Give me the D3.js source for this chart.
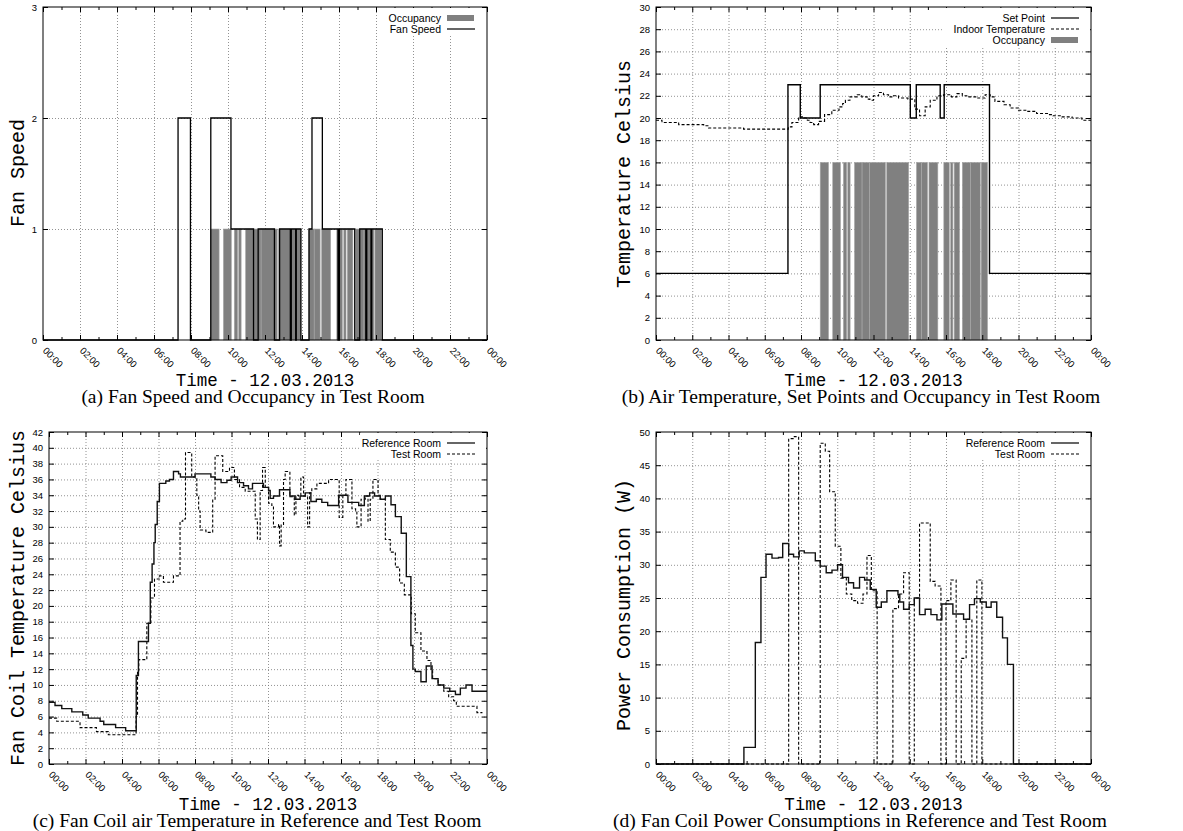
<!DOCTYPE html>
<html><head><meta charset="utf-8">
<script src="https://cdn.jsdelivr.net/npm/d3@7/dist/d3.min.js"></script>
<style>body{margin:0;background:#fff}svg{display:block}</style>
</head><body>
<svg id="chart" width="1183" height="831"></svg>
<script>
// ---------------- DATA ----------------
const timeTicks = [0,2,4,6,8,10,12,14,16,18,20,22,24];
const timeTickLabels = ["00:00","02:00","04:00","06:00","08:00","10:00","12:00","14:00","16:00","18:00","20:00","22:00","00:00"];
const minorTimeTicks = [1,3,5,7,9,11,13,15,17,19,21,23];
const xTitle = "Time - 12.03.2013";

// occupancy intervals [start hour, end hour]
const occupancyIntervals = [
  [9.06,9.52],[9.75,10.18],[10.34,10.52],[10.58,10.71],[10.95,11.37],[11.37,11.79],[11.79,12.66],
  [12.73,13.94],[14.37,14.66],[14.66,14.98],[15.06,15.55],[15.88,16.18],[16.26,16.38],[16.45,16.75],
  [16.9,17.35],[17.35,17.89],[17.94,18.29]
];

// (a) fan speed steps [hour, value]
const fanSpeedTicks = [0,1,2,3];
const fanSpeed = [
  [0,0],[7.3,2],[7.97,0],[9.07,2],[10.16,1],[11.38,0],[11.63,1],[12.51,0],[12.79,1],[13.37,0],
  [13.42,1],[13.66,0],[13.69,1],[13.94,0],[14.38,1],[14.54,2],[15.1,1],[15.95,0],[16.02,1],[16.85,0],
  [17.12,1],[17.45,0],[17.5,1],[17.73,0],[17.77,1],[18.34,0],[24,0]
];

// (b) set point and indoor temperature
const tempTicksB = [0,2,4,6,8,10,12,14,16,18,20,22,24,26,28,30];
const setPoint = [[0,6],[7.28,23],[7.96,20],[9.06,23],[14.03,20],[14.36,23],[15.68,20],[15.9,23],[18.4,6],[24,6]];
const indoorTemp = [
  [0,19.8],[0.33,19.6],[1.25,19.4],[2.63,19.3],[2.9,19.1],[4.83,19.0],[7.3,19.2],[7.5,19.6],[7.87,20.1],
  [8.15,20.0],[8.35,19.8],[8.5,19.6],[8.7,19.4],[8.97,19.7],[9.3,20.3],[9.7,20.7],[10.1,21.0],[10.3,21.3],
  [10.45,21.6],[10.7,21.9],[11.1,22.1],[11.35,21.9],[11.65,21.7],[11.8,21.6],[12.0,22.0],[12.28,22.3],
  [12.55,22.1],[12.83,21.9],[13.1,22.0],[13.38,21.8],[13.9,21.7],[14.28,20.8],[14.54,20.2],[14.85,21.0],
  [15.13,21.6],[15.5,22.0],[15.86,22.1],[16.3,21.9],[16.6,22.2],[16.9,22.0],[17.15,21.9],[17.7,21.8],
  [18.16,22.1],[18.44,21.9],[18.7,21.5],[19.2,21.2],[19.54,20.9],[20.0,20.7],[20.46,20.6],[21.0,20.4],
  [21.6,20.3],[21.9,20.2],[22.4,20.1],[22.95,20.0],[23.5,19.8],[24,19.8]
];

// (c) fan coil air temperature
const tempTicksC = [0,2,4,6,8,10,12,14,16,18,20,22,24,26,28,30,32,34,36,38,40,42];
const refRoomTemp = [
  [0,7.8],[0.33,7.4],[0.7,7.0],[1.25,6.6],[1.85,6.2],[2.15,5.8],[2.8,5.4],[3.0,5.0],[3.65,4.6],[4.2,4.2],
  [4.78,11.2],[4.9,15.5],[5.45,17.8],[5.55,23],[5.65,25.3],[5.75,28],[5.82,30.3],[5.93,33.2],[6.05,35.5],
  [6.4,35.8],[6.6,36],[6.82,37],[7.1,36.7],[7.2,36.3],[8.0,36.7],[8.87,36.3],[9.1,36],[9.43,35.6],[9.75,35.9],
  [9.98,36.3],[10.33,35.6],[10.66,35.2],[10.93,34.8],[11.15,35.5],[11.75,35],[12.03,34.6],[12.12,33.6],
  [12.3,33.9],[12.63,34.7],[13.2,33.9],[13.48,33.5],[13.76,33.9],[14.04,34.3],[14.35,33.2],[14.65,33.5],
  [14.95,33.1],[15.27,32.7],[15.87,34],[16.38,33.1],[16.97,32.7],[17.28,33.9],[17.57,34.3],[17.84,33.9],
  [18.15,33.5],[18.43,33.9],[18.74,32.8],[18.98,31.3],[19.3,29.2],[19.58,23.7],[19.83,15],[19.94,12],
  [20.07,11.7],[20.38,10.4],[20.67,12.4],[20.99,10.8],[21.32,10],[21.63,9.6],[21.96,9.2],[22.27,8.8],
  [22.54,9.6],[22.85,10],[23.18,9.2],[24,9.2]
];
const testRoomTemp = [
  [0,5.8],[0.42,5.4],[1.7,4.6],[2.6,4.1],[3.25,3.7],[4.77,6],[4.85,11.8],[4.92,13.2],[5.36,17.8],[5.58,21],
  [5.78,23.4],[6.05,23.8],[6.27,23],[6.82,23.8],[7.18,30.7],[7.33,31],[7.48,39.4],[7.82,36.3],[8.1,34],
  [8.2,32],[8.28,29.6],[8.6,29.3],[8.97,33.5],[9.1,39],[9.52,37],[9.89,37.5],[10.16,36],[10.44,35],
  [10.75,34.5],[11.3,31],[11.42,28.4],[11.57,34.6],[11.7,37.5],[11.85,35],[12.03,33],[12.21,32.7],[12.3,30],
  [12.58,30.3],[12.63,27.6],[12.72,30.3],[12.85,36],[12.94,37],[13.2,33.8],[13.44,31.5],[13.53,34],
  [13.67,33.9],[13.8,36.3],[13.95,33.9],[14.17,30],[14.28,34.3],[14.4,34.8],[14.68,35.5],[15.32,36],
  [15.9,31.2],[16.1,34],[16.27,36],[16.6,32.3],[16.8,32],[16.87,30],[17.1,33.5],[17.33,33.9],[17.48,30.7],
  [17.6,33.5],[17.75,36],[18.03,34],[18.15,33.5],[18.43,28.4],[18.7,26.8],[18.98,24.9],[19.21,22.9],
  [19.47,21.4],[19.85,19],[20.07,16.6],[20.38,14.3],[20.71,13.1],[20.93,12],[21.02,10.8],[21.32,10],
  [21.63,9.2],[21.9,8.5],[22.17,8],[22.32,7.3],[23.0,7.3],[23.45,6.5],[23.75,6.5]
];

// (d) power consumption
const powerTicks = [0,5,10,15,20,25,30,35,40,45,50];
const refRoomPower = [
  [0,0],[4.85,2.5],[5.48,18.3],[5.79,28.1],[6.07,31.6],[6.4,31.0],[6.76,31.1],[6.99,33.2],[7.32,31.6],
  [7.59,31.2],[7.9,32.1],[8.18,31.8],[8.79,30.6],[9.06,29.8],[9.39,28.8],[9.71,29.2],[10.02,30],[10.29,28.1],
  [10.62,27.3],[10.9,26.5],[11.23,28.1],[11.51,27.7],[11.82,26.3],[12.15,23.6],[12.43,24.4],[12.74,26.1],
  [13.35,25.5],[13.45,24.4],[13.66,23.3],[13.97,24],[14.25,25],[14.54,22.5],[14.85,23.3],[15.17,22.5],
  [15.5,21.7],[15.77,24.1],[16.38,22.6],[16.97,21.8],[17.3,24.0],[17.57,24.9],[17.89,24.4],[18.22,23.6],
  [18.49,24.4],[18.8,22.1],[19.12,19],[19.39,15],[19.72,0],[24,0]
];
const testRoomPower = [
  [0,0],[7.32,49],[7.63,49.3],[7.87,0],[9.06,48.3],[9.34,47.1],[9.58,41],[9.89,32.8],[10.2,28],[10.5,25.6],
  [10.8,24.6],[11.12,24.2],[11.42,25.6],[11.64,31.4],[11.88,26.1],[12.2,0],[13.07,23.4],[13.38,25.6],
  [13.66,28.8],[13.97,0],[14.25,25],[14.54,36.3],[15.13,27.5],[15.4,26.8],[15.72,0],[16.0,24.6],[16.27,27.7],
  [16.56,0],[16.84,15.9],[17.11,21.8],[17.43,0],[17.7,27.7],[17.98,0],[24,0]
];

// ---------------- DRAW ----------------
const svg = d3.select('#chart');
const SANS = "'Liberation Sans', Arial, Helvetica, sans-serif";
const MONO = "'Liberation Mono', 'Courier New', monospace";
const SERIF = "'Liberation Serif', 'Times New Roman', serif";

function panel(o){
  const g = svg.append('g');
  const x = d3.scaleLinear().domain([0,24]).range([o.x0,o.x1]);
  const y = d3.scaleLinear().domain([0,o.ymax]).range([o.y1,o.y0]);
  const W = o.x1-o.x0, H = o.y1-o.y0;

  // grid
  const gx = g.append('g').attr('transform',`translate(0,${o.y1})`)
    .call(d3.axisBottom(x).tickValues(timeTicks.slice(1,-1)).tickSize(-H).tickFormat(''));
  const gy = g.append('g').attr('transform',`translate(${o.x0},0)`)
    .call(d3.axisLeft(y).tickValues(o.yticks.slice(1,-1)).tickSize(-W).tickFormat(''));
  [gx,gy].forEach(a=>{a.select('.domain').remove();
    a.selectAll('line').attr('stroke','#777').attr('stroke-width',0.8).attr('stroke-dasharray','1,2');});

  // occupancy
  if(o.occ){
    g.append('g').selectAll('rect').data(occupancyIntervals).join('rect')
      .attr('x',d=>x(d[0])).attr('width',d=>x(d[1])-x(d[0]))
      .attr('y',y(o.occ)).attr('height',y(0)-y(o.occ))
      .attr('fill','#808080').attr('stroke','#a8a8a8').attr('stroke-width',0.6);
  }

  // lines
  const line = d3.line().x(d=>x(d[0])).y(d=>y(d[1])).curve(d3.curveStepAfter);
  o.series.forEach(s=>{
    g.append('path').datum(s.data).attr('d',line).attr('fill','none')
      .attr('stroke',s.color||'#000').attr('stroke-width',s.width||1.2)
      .attr('stroke-dasharray',s.dash||null);
  });

  // border
  g.append('rect').attr('x',o.x0).attr('y',o.y0).attr('width',W).attr('height',H)
    .attr('fill','none').attr('stroke','#000').attr('stroke-width',1);

  // axes ticks
  const bottom = g.append('g').attr('transform',`translate(0,${o.y1})`)
    .call(d3.axisBottom(x).tickValues(timeTicks).tickSize(-5).tickFormat((d,i)=>timeTickLabels[i]));
  bottom.selectAll('text').attr('x',0).attr('y',0).attr('dy','0.35em')
    .attr('transform','translate(1,9) rotate(45)').style('text-anchor','start');
  const bottomMinor = g.append('g').attr('transform',`translate(0,${o.y1})`)
    .call(d3.axisBottom(x).tickValues(minorTimeTicks).tickSize(-3).tickFormat(''));
  const top = g.append('g').attr('transform',`translate(0,${o.y0})`)
    .call(d3.axisTop(x).tickValues(timeTicks).tickSize(-5).tickFormat(''));
  const topMinor = g.append('g').attr('transform',`translate(0,${o.y0})`)
    .call(d3.axisTop(x).tickValues(minorTimeTicks).tickSize(-3).tickFormat(''));
  const left = g.append('g').attr('transform',`translate(${o.x0},0)`)
    .call(d3.axisLeft(y).tickValues(o.yticks).tickSize(-5).tickPadding(6).tickFormat(d3.format('d')));
  const right = g.append('g').attr('transform',`translate(${o.x1},0)`)
    .call(d3.axisRight(y).tickValues(o.yticks).tickSize(-5).tickFormat(''));
  [bottom,bottomMinor,top,topMinor,left,right].forEach(a=>{
    a.select('.domain').remove();
    a.selectAll('line').attr('stroke','#000').attr('stroke-width',1);
    a.selectAll('text').attr('font-family',SANS).attr('font-size',9.5).attr('fill','#000');
  });

  // legend (opaque)
  const lg = g.append('g');
  lg.append('rect').attr('x',o.legX).attr('y',o.y0+1).attr('width',o.x1-o.legX-1)
    .attr('height',o.legend.length*11+5).attr('fill','#fff');
  o.legend.forEach((L,i)=>{
    const ly = o.y0+11+i*11;
    lg.append('text').attr('x',o.x1-46).attr('y',ly).attr('dy','0.35em')
      .attr('text-anchor','end').attr('font-family',SANS).attr('font-size',10.5).text(L.label);
    if(L.box){
      lg.append('rect').attr('x',o.x1-40).attr('y',ly-3).attr('width',27).attr('height',6).attr('fill','#808080');
    } else {
      lg.append('line').attr('x1',o.x1-40).attr('x2',o.x1-12).attr('y1',ly).attr('y2',ly)
        .attr('stroke','#000').attr('stroke-width',1.2).attr('stroke-dasharray',L.dash||null);
    }
  });

  // titles
  const cx = (o.x0+o.x1)/2;
  g.append('text').attr('x',cx).attr('y',o.y1+46).attr('text-anchor','middle')
    .attr('font-family',MONO).attr('font-size',17.5).text(xTitle);
  g.append('text').attr('transform',`translate(${o.ylabX},${o.ylabY}) rotate(-90)`)
    .attr('text-anchor','middle').attr('font-family',MONO).attr('font-size',20).text(o.ylabel);
  g.append('text').attr('x',o.capX).attr('y',o.y1+63).attr('text-anchor','middle')
    .attr('font-family',SERIF).attr('font-size',19.5).text(o.caption);
}

panel({x0:43,x1:487,y0:7,y1:340,ymax:3,yticks:fanSpeedTicks,occ:1,
  series:[{data:fanSpeed,width:1.3}],
  legend:[{label:'Occupancy',box:true},{label:'Fan Speed'}],legX:382,
  ylabel:'Fan Speed',ylabX:24,ylabY:173,
  caption:'(a) Fan Speed and Occupancy in Test Room',capX:253});

panel({x0:656,x1:1091,y0:7,y1:340,ymax:30,yticks:tempTicksB,occ:16,
  series:[{data:setPoint,width:1.4},{data:indoorTemp,width:1.1,dash:'3,2'}],
  legend:[{label:'Set Point'},{label:'Indoor Temperature',dash:'3,2'},{label:'Occupancy',box:true}],legX:943,
  ylabel:'Temperature Celsius',ylabX:630,ylabY:174,
  caption:'(b) Air Temperature, Set Points and Occupancy in Test Room',capX:861});

panel({x0:49,x1:487,y0:432,y1:764,ymax:42,yticks:tempTicksC,
  series:[{data:testRoomTemp,width:1.1,dash:'3,2'},{data:refRoomTemp,width:1.4,color:'#111'}],
  legend:[{label:'Reference Room'},{label:'Test Room',dash:'3,2'}],legX:360,
  ylabel:'Fan Coil Temperature Celsius',ylabX:24,ylabY:598,
  caption:'(c) Fan Coil air Temperature in Reference and Test Room',capX:257});

panel({x0:656,x1:1091,y0:432,y1:764,ymax:50,yticks:powerTicks,
  series:[{data:testRoomPower,width:1.1,dash:'3,2'},{data:refRoomPower,width:1.4,color:'#111'}],
  legend:[{label:'Reference Room'},{label:'Test Room',dash:'3,2'}],legX:965,
  ylabel:'Power Consumption (W)',ylabX:630,ylabY:605,
  caption:'(d) Fan Coil Power Consumptions in Reference and Test Room',capX:860});
</script>
</body></html>
